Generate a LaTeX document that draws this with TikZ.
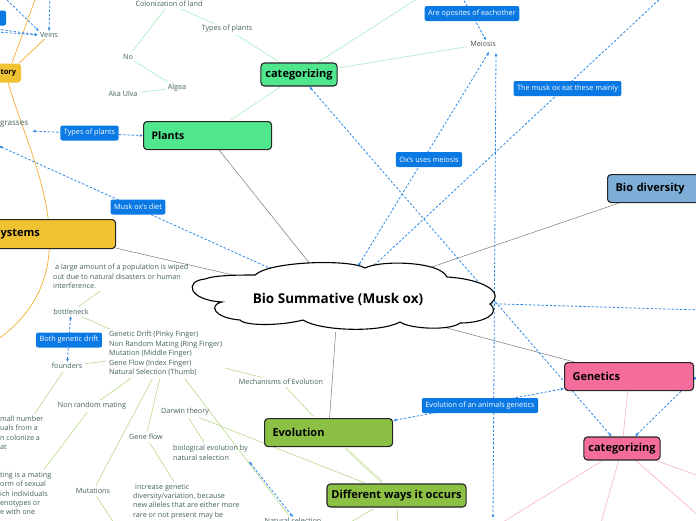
\documentclass[tikz,border=0pt]{standalone}
\usepackage{fontspec}
\setmainfont{Open Sans}
\usetikzlibrary{arrows.meta,backgrounds,shapes.geometric}
\definecolor{ccatgreen}{HTML}{50E68D}
\definecolor{cbio}{HTML}{7DAED8}
\definecolor{cyellow}{HTML}{F0C232}
\definecolor{cevo}{HTML}{8BC045}
\definecolor{cgen}{HTML}{F46C9B}
\definecolor{crel}{HTML}{0B79E4}
\definecolor{crelline}{HTML}{2C87E6}
\definecolor{cnote}{HTML}{41605E}
\definecolor{cmain}{HTML}{7A7A7A}
\definecolor{ccatline}{HTML}{A4ECBE}
\definecolor{cevoline}{HTML}{B7D98C}
\definecolor{cgenline}{HTML}{F7B0C8}
\definecolor{corange}{HTML}{F5AC2E}

\begin{document}
\begin{tikzpicture}[x=1pt, y=-1pt, >={Latex[length=3.2pt,width=3pt]},
    topic/.style={draw=black!85, line width=1.1pt, rounded corners=3.5pt,
      font=\fontsize{11}{13}\selectfont\bfseries, inner xsep=8pt, inner ysep=0pt,
      minimum height=28pt, align=left, anchor=north west},
    subtopic/.style={topic, minimum height=23pt, inner xsep=4.5pt, anchor=center,
      font=\fontsize{11}{13}\selectfont\bfseries},
    rel/.style={fill=crel, text=white, rounded corners=2pt,
      font=\fontsize{7.3}{8}\selectfont, inner xsep=3.5pt, inner ysep=0pt, minimum height=15pt},
    note/.style={text=cnote, font=\fontsize{7.2}{9.5}\selectfont, inner sep=1pt, align=left},
    mainline/.style={draw=cmain, line width=0.5pt},
    catline/.style={draw=ccatline, line width=0.6pt, shorten <=1pt, shorten >=2pt},
    evoline/.style={draw=cevoline, line width=0.6pt, shorten <=2pt, shorten >=2pt},
    genline/.style={draw=cgenline, line width=0.6pt},
    terrline/.style={draw=corange, line width=0.7pt},
    relline/.style={draw=crelline, line width=0.8pt, dash pattern=on 2.4pt off 1.8pt}]
  \useasboundingbox (0,0) rectangle (696,520);

  % main topics
  \node[subtopic, fill=ccatgreen] (catplant) at (299,74.5) {categorizing};
  \node[topic, fill=ccatgreen, text width=112pt, font=\fontsize{10.5}{12}\selectfont\bfseries] (plants) at (143,121) {Plants};
  \node[topic, fill=cbio, text width=92pt] (biodiv) at (607,174) {Bio diversity};
  \node[topic, fill=cyellow, text width=107pt, minimum height=29pt] (systems) at (-8,219) {ystems};
  \node[topic, fill=cyellow, draw=none, minimum height=19pt, inner xsep=5pt, font=\fontsize{7.5}{9}\selectfont\bfseries] (tory) at (-5,63) {tory};
  \node[topic, fill=cevo, text width=112pt] (evol) at (264,418) {Evolution};
  \node[subtopic, fill=cevo] (ways) at (396.5,495.5) {Different ways it occurs};
  \node[topic, fill=cgen, text width=113pt] (gen) at (564,362) {Genetics};
  \node[subtopic, fill=cgen] (catgen) at (622,448.5) {categorizing};

  % central cloud
  \draw[line width=1.1pt, fill=white] (255,275) .. controls (270,261) and (350,259) .. (365,268)
    .. controls (380,260) and (440,261) .. (447,277)
    .. controls (482,279) and (506,292) .. (490,304)
    .. controls (501,313) and (485,323) .. (460,323)
    .. controls (450,331) and (410,329) .. (400,322)
    .. controls (380,333) and (320,331) .. (303,320)
    .. controls (280,326) and (245,326) .. (240,320)
    .. controls (214,318) and (208,305) .. (222,302)
    .. controls (188,300) and (184,281) .. (205,279)
    .. controls (215,275) and (240,275) .. (255,275) -- cycle;
  \node[ellipse, minimum width=300pt, minimum height=66pt, font=\fontsize{13.5}{15}\selectfont\bfseries] (hub) at (338,299) {Bio Summative (Musk ox)};

  % relation labels
  \node[rel, minimum width=16pt] (relveins) at (-2,18) {};
  \node[rel] (relopp) at (472,13.5) {Are oposites of eachother};
  \node[rel] (releat) at (567.5,88.5) {The musk ox eat these mainly};
  \node[rel] (reltypes) at (89.5,133) {Types of plants};
  \node[rel] (relmei) at (429,159.5) {Ox's uses meiosis};
  \node[rel] (reldiet) at (138,207) {Musk ox's diet};
  \node[rel] (reldrift) at (69,340) {Both genetic drift};
  \node[rel] (relevo) at (480,405.5) {Evolution of an animals genetics};

  % notes
  \node[note] (colon) at (169,4) {Colonization of land};
  \node[note] (types) at (227,29) {Types of plants};
  \node[note] (no) at (128,57) {No};
  \node[note] (algea) at (177,88) {Algea};
  \node[note] (ulva) at (123,94) {Aka Ulva};
  \node[note] (veins) at (49,35) {Veins};
  \node[note, anchor=west, font=\fontsize{8}{10}\selectfont] (grasses) at (-1,124) {grasses};
  \node[note, text=black!70] (meiosis) at (483,44) {Meiosis};
  \node[note, anchor=north west] (wiped) at (52,263) {\hspace*{2pt}a large amount of a population is wiped\\out due to natural disasters or human\\interference.};
  \node[note] (bottle) at (71,312) {bottleneck};
  \node[note, anchor=north west] (fingers) at (108,330) {Genetic Drift (Pinky Finger)\\Non Random Mating (Ring Finger)\\Mutation (Middle Finger)\\Gene Flow (Index Finger)\\Natural Selection (Thumb)};
  \node[note] (founders) at (67,366) {founders};
  \node[note] (nonrand) at (92,406) {Non random mating};
  \node[note, anchor=north west, font=\fontsize{7.2}{9.2}\selectfont] (colonize) at (-1,415) {mall number\\uals from a\\n colonize a\\at};
  \node[note, anchor=north west, font=\fontsize{7.2}{9.3}\selectfont] (mating) at (-1,471) {ting is a mating\\orm of sexual\\ich individuals\\enotypes or\\e with one};
  \node[note] (mutations) at (93,491) {Mutations};
  \node[note] (darwin) at (185,412) {Darwin theory};
  \node[note] (geneflow) at (146,437) {Gene flow};
  \node[note, anchor=north west] (bioevo) at (172,444) {biological evolution by\\natural selection};
  \node[note, anchor=north west, font=\fontsize{7.2}{9.2}\selectfont] (increase) at (132,483) {\hspace*{2pt}increase genetic\\diversity/variation, because\\new alleles that are either more\\rare or not present may be};
  \node[note] (mech) at (281,382) {Mechanisms of Evolution};
  \node[note] (natsel) at (293,521) {Natural selection};

  % free ends
  \coordinate (topcat) at (420,-3);
  \coordinate (toptory) at (36,-3);
  \coordinate (leftcurve) at (-3,340);
  \coordinate (topopp) at (462,-3);
  \coordinate (topeat) at (662,-3);
  \coordinate (leftdiet) at (-1,146);
  \coordinate (leftv1) at (-3,29);
  \coordinate (leftv2) at (-3,32);
  \coordinate (topv1) at (4,-3);
  \coordinate (topv2) at (50,-3);
  \coordinate (botmei) at (493,518);
  \coordinate (rightcloud) at (699,310);
  \coordinate (rightgen) at (701,366);
  \coordinate (botmut) at (114,523);
  \coordinate (botways1) at (349,523);
  \coordinate (botways2) at (398,523);
  \coordinate (botgen1) at (503,522);
  \coordinate (botgen2) at (601,523);
  \coordinate (botgen3) at (699,516);
  \coordinate (rightgen2) at (699,476);

  \begin{scope}[on background layer]
    % main branches
    \draw[mainline] (hub) -- (plants);
    \draw[mainline] (hub) -- (systems);
    \draw[mainline] (hub) -- (biodiv);
    \draw[mainline] (hub) -- (gen);
    \draw[mainline] (hub) -- (evol);
    % plants
    \draw[catline] (catplant) -- (plants);
    \draw[catline] (catplant) -- (types);
    \draw[catline] (catplant) -- (topcat);
    \draw[catline] (catplant) -- (meiosis);
    \draw[catline] (types) -- (colon);
    \draw[catline] (colon) -- (no);
    \draw[catline] (no) -- (algea);
    \draw[catline] (algea) -- (ulva);
    % territory
    \draw[terrline] (toptory) -- (tory);
    \draw[terrline] (tory) -- (veins);
    \draw[terrline] (tory.south) .. controls (30,160) and (95,270) .. (leftcurve);
    % evolution
    \draw[evoline] (evol) -- (mech);
    \draw[evoline] (mech) -- (fingers);
    \draw[evoline] (fingers) -- (bottle);
    \draw[evoline] (bottle) -- (wiped);
    \draw[evoline] (fingers) -- (founders);
    \draw[evoline] (founders) -- (colonize);
    \draw[evoline] (fingers) -- (nonrand);
    \draw[evoline] (nonrand) -- (mating);
    \draw[evoline] (fingers) -- (mutations);
    \draw[evoline] (fingers) -- (geneflow);
    \draw[evoline] (fingers) -- (natsel);
    \draw[evoline] (geneflow) -- (increase);
    \draw[evoline] (darwin) -- (bioevo);
    \draw[evoline] (darwin) -- (ways);
    \draw[evoline] (mutations) -- (botmut);
    \draw[evoline, double=white, double distance=0.8pt] (evol) -- (ways);
    \draw[evoline] (ways) -- (botways1);
    \draw[evoline] (ways) -- (botways2);
    % genetics
    \draw[genline] (gen) -- (catgen);
    \draw[genline] (catgen) -- (botgen1);
    \draw[genline] (catgen) -- (botgen2);
    \draw[genline] (catgen) -- (botgen3);
    \draw[genline] (catgen) -- (rightgen2);
    % relations
    \draw[relline, ->, shorten >=1pt] (leftv1) -- (veins.west);
    \draw[relline, ->, shorten >=1pt] (leftv2) -- (veins.west);
    \draw[relline, ->] (topv1) -- (veins.north west);
    \draw[relline, ->] (topv2) -- (veins.north);
    \draw[relline, ->] (topopp) -- ([xshift=3pt]meiosis.north);
    \draw[relline, <->] (hub) -- ([xshift=6pt,yshift=-4pt]meiosis.south);
    \draw[relline, <->] ([xshift=13pt,yshift=-5pt]meiosis.south) -- (botmei);
    \draw[relline, ->] (topeat) -- (hub);
    \draw[relline, <->] (leftdiet) -- (hub);
    \draw[relline, <->, shorten <=3pt] ([yshift=-7pt]grasses.east) -- (plants.west);
    \draw[relline, <->] (bottle) -- (founders);
    \draw[relline, <->] (evol) -- (gen);
    \draw[relline, <->] (bioevo.south east) -- (natsel.north);
    \draw[relline, <->] (catplant) -- (catgen);
    \draw[relline, ->] ([xshift=-13pt]gen.south east) -- ([xshift=13pt]catgen.north);
    \draw[relline] (hub) -- (rightcloud);
    \draw[relline, ->] (rightgen) -- ([yshift=-4pt]gen.east);
  \end{scope}
\end{tikzpicture}
\end{document}
